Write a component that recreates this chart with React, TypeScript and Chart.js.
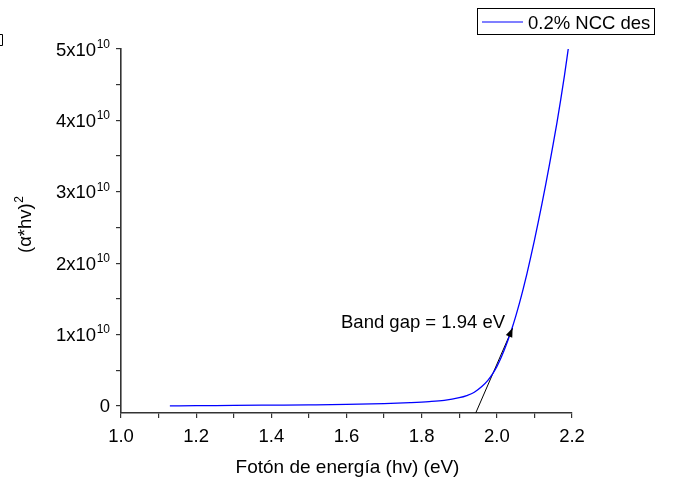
import React, { useEffect, useRef } from "react";
import { Chart, registerables } from "chart.js";

Chart.register(...registerables);

// ---- data ----
const energy = [1.13, 1.2, 1.3, 1.4, 1.5, 1.6, 1.7, 1.77, 1.82, 1.86, 1.9, 1.92, 1.94, 1.96, 1.975, 1.99, 2.0, 2.01, 2.02, 2.03, 2.04, 2.05, 2.06, 2.07, 2.08, 2.09, 2.1, 2.11, 2.12, 2.13, 2.14, 2.15, 2.16, 2.17, 2.18, 2.19];
const absorbance = [0.0, 0.003e10, 0.006e10, 0.01e10, 0.014e10, 0.02e10, 0.032e10, 0.046e10, 0.06e10, 0.078e10, 0.115e10, 0.145e10, 0.19e10, 0.27e10, 0.35e10, 0.46e10, 0.55e10, 0.66e10, 0.785e10, 0.925e10, 1.08e10, 1.25e10, 1.435e10, 1.635e10, 1.85e10, 2.08e10, 2.32e10, 2.57e10, 2.83e10, 3.1e10, 3.38e10, 3.67e10, 3.97e10, 4.29e10, 4.63e10, 5.0e10];
const tangentX = [1.944, 2.042];
const tangentY = [-0.098e10, 1.09e10];

const xMajorTicks = [1.0, 1.2, 1.4, 1.6, 1.8, 2.0, 2.2];
const xTickLabels = ["1.0", "1.2", "1.4", "1.6", "1.8", "2.0", "2.2"];
const xMinorTicks = [1.1, 1.3, 1.5, 1.7, 1.9, 2.1];
const yMajorTicks = [0, 1e10, 2e10, 3e10, 4e10, 5e10];
const yTickMantissa = ["0", "1", "2", "3", "4", "5"];
const yMinorTicks = [0.5e10, 1.5e10, 2.5e10, 3.5e10, 4.5e10];

const seriesName = "0.2% NCC des";
const annotationText = "Band gap = 1.94 eV";
const xTitle = "Fotón de energía (hv) (eV)";
const yTitle = "(\u03B1*hv)";
const yTitleSup = "2";

const FONT = 'Arial, "Liberation Sans", sans-serif';
const AXIS = "#333333";
const FS = 18.5;

const overlay = {
  id: "overlay",
  afterDraw(chart: any) {
    const ctx = chart.ctx as CanvasRenderingContext2D;
    const xs = chart.scales.x;
    const ys = chart.scales.y;
    ctx.save();
    ctx.fillStyle = "#000";
    // x tick labels
    ctx.font = `${FS}px ${FONT}`;
    ctx.textAlign = "center";
    ctx.textBaseline = "alphabetic";
    xMajorTicks.forEach((v, i) => {
      ctx.fillText(xTickLabels[i], xs.getPixelForValue(v), 442);
    });
    // y tick labels
    yMajorTicks.forEach((v, i) => {
      const py = ys.getPixelForValue(v);
      const right = 110;
      if (v === 0) {
        ctx.font = `${FS}px ${FONT}`;
        ctx.textAlign = "right";
        ctx.fillText(yTickMantissa[i], right, py + 6.5);
      } else {
        ctx.font = `12px ${FONT}`;
        ctx.textAlign = "right";
        const sw = ctx.measureText("10").width;
        ctx.fillText("10", right, py - 1);
        ctx.font = `${FS}px ${FONT}`;
        ctx.fillText(yTickMantissa[i] + "x10", right - sw - 0.5, py + 6.5);
      }
    });
    // x title
    ctx.font = `19px ${FONT}`;
    ctx.textAlign = "center";
    ctx.fillText(xTitle, (xs.left + xs.right) / 2 + 1, 473);
    // y title
    ctx.save();
    ctx.translate(31, 253);
    ctx.rotate(-Math.PI / 2);
    ctx.textAlign = "left";
    ctx.font = `${FS}px ${FONT}`;
    ctx.fillText(yTitle, 0, 0);
    const w = ctx.measureText(yTitle).width;
    ctx.font = `12px ${FONT}`;
    ctx.fillText(yTitleSup, w + 0.5, -8);
    ctx.restore();
    // annotation text
    ctx.font = `${FS}px ${FONT}`;
    ctx.textAlign = "left";
    ctx.fillText(annotationText, 341, 328);
    // arrowhead at the tangent end
    const meta = chart.getDatasetMeta(1);
    const p0 = meta.data[0];
    const p1 = meta.data[1];
    if (p0 && p1) {
      const ang = Math.atan2(p1.y - p0.y, p1.x - p0.x);
      const L = 9, W = 3.5;
      ctx.beginPath();
      ctx.moveTo(p1.x, p1.y);
      ctx.lineTo(p1.x - L * Math.cos(ang) + W * Math.sin(ang), p1.y - L * Math.sin(ang) - W * Math.cos(ang));
      ctx.lineTo(p1.x - L * Math.cos(ang) - W * Math.sin(ang), p1.y - L * Math.sin(ang) + W * Math.cos(ang));
      ctx.closePath();
      ctx.fill();
    }
    // legend box
    ctx.strokeStyle = "#000";
    ctx.lineWidth = 1;
    ctx.strokeRect(477.5, 8.5, 177, 26);
    ctx.strokeStyle = "#0000ff";
    ctx.lineWidth = 1.2;
    ctx.beginPath();
    ctx.moveTo(482, 22);
    ctx.lineTo(523, 22);
    ctx.stroke();
    ctx.fillStyle = "#000";
    ctx.font = `${FS}px ${FONT}`;
    ctx.textAlign = "left";
    ctx.fillText(seriesName, 528, 29);
    // cropped box fragment at top-left
    ctx.strokeStyle = "#000";
    ctx.lineWidth = 1;
    ctx.beginPath();
    ctx.moveTo(-2, 34.5);
    ctx.lineTo(2.5, 34.5);
    ctx.lineTo(2.5, 45.5);
    ctx.lineTo(-2, 45.5);
    ctx.stroke();
    ctx.restore();
  },
};

export default function App() {
  const ref = useRef<HTMLCanvasElement | null>(null);
  useEffect(() => {
    if (!ref.current) return;
    const chart = new Chart(ref.current, {
      type: "line",
      data: {
        datasets: [
          {
            label: seriesName,
            data: energy.map((x, i) => ({ x, y: absorbance[i] })),
            borderColor: "#0000ff",
            borderWidth: 1.3,
            pointRadius: 0,
            cubicInterpolationMode: "monotone",
            fill: false,
          },
          {
            label: "tangent",
            data: tangentX.map((x, i) => ({ x, y: tangentY[i] })),
            borderColor: "#000000",
            borderWidth: 1,
            pointRadius: 0,
            fill: false,
          },
        ],
      },
      options: {
        animation: false,
        responsive: false,
        devicePixelRatio: 1,
        layout: { padding: { left: 0, top: 49, right: 101, bottom: 0 } },
        plugins: { legend: { display: false }, tooltip: { enabled: false } },
        scales: {
          x: {
            type: "linear",
            min: 1.0,
            max: 2.2,
            afterBuildTicks: (s: any) => {
              s.ticks = [...xMajorTicks, ...xMinorTicks].sort((a, b) => a - b).map((value) => ({ value }));
            },
            afterFit: (s: any) => {
              s.height = 72;
            },
            ticks: { display: false },
            grid: { display: true, drawOnChartArea: false, drawTicks: true, tickLength: 5, color: AXIS, lineWidth: 1.2 },
            border: { display: true, color: AXIS, width: 1.6 },
          },
          y: {
            type: "linear",
            min: -0.1e10,
            max: 5e10,
            afterBuildTicks: (s: any) => {
              s.ticks = [...yMajorTicks, ...yMinorTicks].sort((a, b) => a - b).map((value) => ({ value }));
            },
            afterFit: (s: any) => {
              s.width = 121;
            },
            ticks: { display: false },
            grid: { display: true, drawOnChartArea: false, drawTicks: true, tickLength: 5, color: AXIS, lineWidth: 1.2 },
            border: { display: true, color: AXIS, width: 1.6 },
          },
        },
      },
      plugins: [overlay],
    } as any);
    return () => chart.destroy();
  }, []);
  return (
    <div style={{ position: "fixed", left: 0, top: 0, width: 673, height: 485, background: "#fff" }}>
      <canvas ref={ref} width={673} height={485} style={{ display: "block" }} />
    </div>
  );
}
